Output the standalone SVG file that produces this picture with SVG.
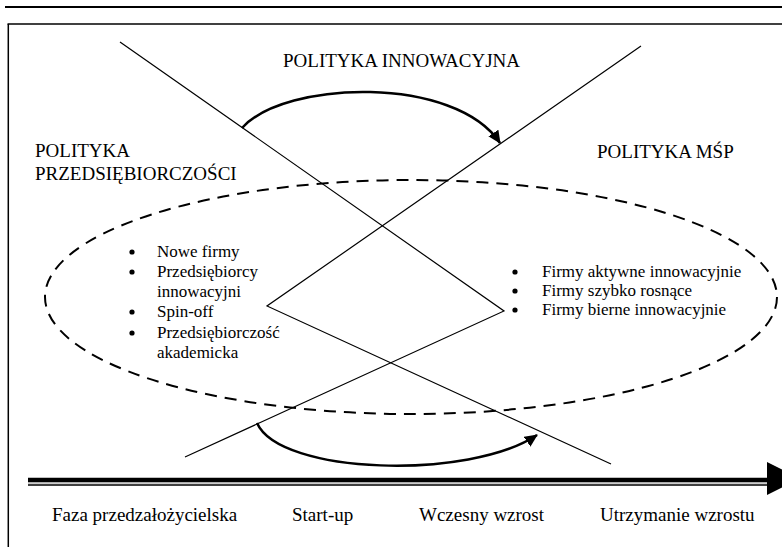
<svg xmlns="http://www.w3.org/2000/svg" width="782" height="547" viewBox="0 0 782 547">
<defs>
<style>
text{font-family:"Liberation Serif","Times New Roman",serif;fill:#000}
.h{font-size:19px}
.b{font-size:17px}
.ax{font-size:19px}
.ln{stroke:#000;stroke-width:1.2;fill:none}
.arc{stroke:#000;stroke-width:2.5;fill:none}
</style>
<marker id="ah" markerUnits="userSpaceOnUse" markerWidth="14" markerHeight="12" refX="12" refY="6" orient="auto">
<path d="M0,0 L13,6 L0,12 Z" fill="#000"/>
</marker>
</defs>
<rect width="782" height="547" fill="#fff"/>
<g id="frame">
<line x1="5" y1="7" x2="782" y2="7" stroke="#000" stroke-width="2"/>
<line x1="7.5" y1="24" x2="782" y2="24" stroke="#000" stroke-width="1.6"/>
<line x1="8.3" y1="24" x2="8.3" y2="547" stroke="#000" stroke-width="1.5"/>
</g>
<g id="ellipse">
<ellipse cx="411" cy="297" rx="366" ry="117" fill="none" stroke="#000" stroke-width="2" stroke-dasharray="12 8"/>
</g>
<g id="cross-lines">
<polyline class="ln" points="120,42 504,311 185,457"/>
<polyline class="ln" points="641,46 267,306 611,464"/>
</g>
<g id="polityka-innowacyjna"><text class="h" x="283" y="67">POLITYKA INNOWACYJNA</text></g>
<g id="polityka-przedsiebiorczosci">
<text class="h" x="35" y="157">POLITYKA</text>
<text class="h" x="35" y="180">PRZEDSIĘBIORCZOŚCI</text>
</g>
<g id="polityka-msp"><text class="h" x="597" y="158">POLITYKA MŚP</text></g>
<g id="left-list">
<circle cx="132" cy="252" r="2.6"/>
<text class="b" x="157" y="257">Nowe firmy</text>
<circle cx="132" cy="272" r="2.6"/>
<text class="b" x="157" y="277">Przedsiębiorcy</text>
<text class="b" x="157" y="297">innowacyjni</text>
<circle cx="132" cy="312" r="2.6"/>
<text class="b" x="157" y="317">Spin-off</text>
<circle cx="132" cy="333" r="2.6"/>
<text class="b" x="157" y="338">Przedsiębiorczość</text>
<text class="b" x="157" y="358">akademicka</text>
</g>
<g id="right-list">
<circle cx="515" cy="272" r="2.6"/>
<text class="b" x="542" y="277">Firmy aktywne innowacyjnie</text>
<circle cx="515" cy="291" r="2.6"/>
<text class="b" x="542" y="296">Firmy szybko rosnące</text>
<circle cx="515" cy="310" r="2.6"/>
<text class="b" x="542" y="315">Firmy bierne innowacyjnie</text>
</g>
<g id="connectors">
<path class="arc" d="M242,128 C285,80 455,75 500,143" marker-end="url(#ah)"/>
<path class="arc" d="M257,423 C280,475 470,480 537,435" marker-end="url(#ah)"/>
</g>
<g id="axis">
<line x1="28" y1="480" x2="768" y2="480" stroke="#000" stroke-width="4.5"/>
<line x1="28" y1="483" x2="768" y2="483" stroke="#999" stroke-width="1"/>
<line x1="28" y1="485" x2="768" y2="485" stroke="#000" stroke-width="1.5"/>
<polygon points="767,462 767,495 800,478.5" fill="#000"/>
</g>
<g id="phases">
<text class="ax" x="52" y="521">Faza przedzałożycielska</text>
<text class="ax" x="292" y="521">Start-up</text>
<text class="ax" x="419" y="521">Wczesny wzrost</text>
<text class="ax" x="600" y="521">Utrzymanie wzrostu</text>
</g>
</svg>
